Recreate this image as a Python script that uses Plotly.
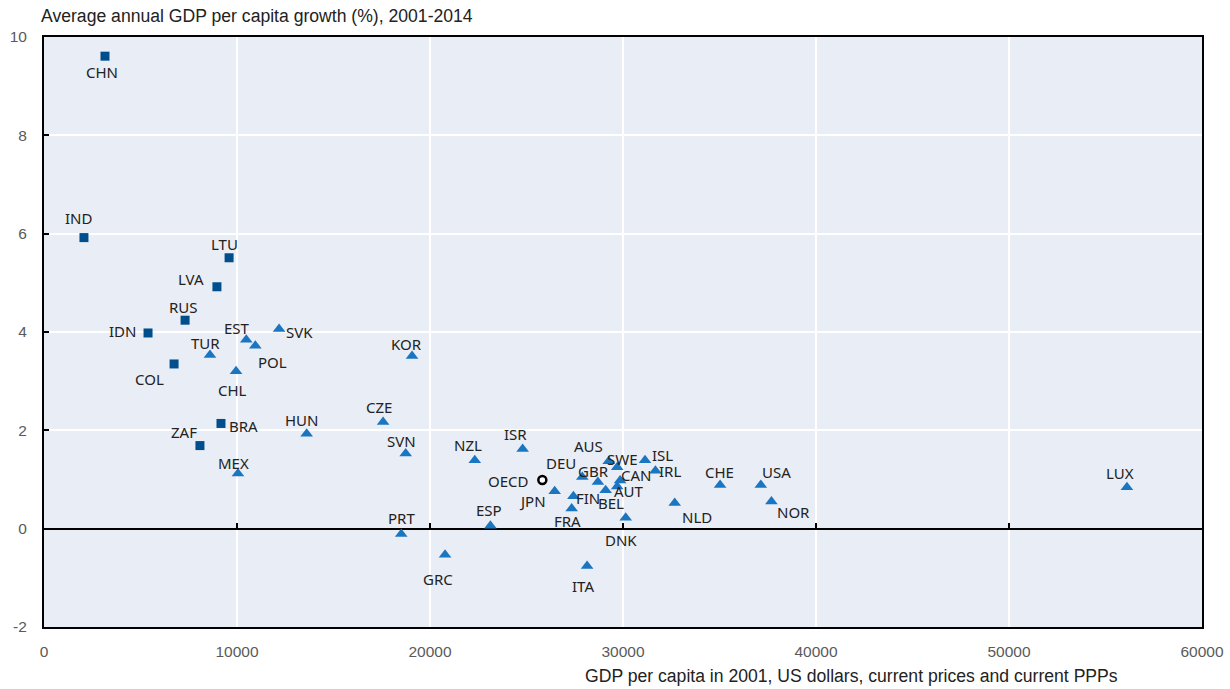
import plotly.graph_objects as go

# partner economies (squares)
partner_codes = ["CHN", "IND", "LTU", "LVA", "RUS", "IDN", "COL", "BRA", "ZAF"]
partner_gdp_2001 = [3160, 2070, 9590, 8960, 7310, 5390, 6740, 9170, 8080]
partner_growth = [9.61, 5.92, 5.51, 4.92, 4.24, 3.98, 3.35, 2.14, 1.69]

# OECD member countries (triangles)
oecd_codes = [
    "SVK", "EST", "POL", "TUR", "CHL", "HUN", "MEX", "KOR", "CZE", "SVN",
    "NZL", "ISR", "JPN", "FIN", "FRA", "DEU", "GBR", "BEL", "AUS", "SWE",
    "CAN", "AUT", "DNK", "ISL", "IRL", "NLD", "ESP", "PRT", "GRC", "ITA",
    "CHE", "USA", "NOR", "LUX",
]
oecd_gdp_2001 = [
    12180, 10480, 10950, 8600, 9950, 13610, 10050, 19070, 17570, 18740,
    22320, 24800, 26460, 27430, 27340, 27890, 28700, 29100, 29260, 29700,
    29850, 29700, 30140, 31140, 31680, 32680, 23130, 18510, 20780, 28140,
    35030, 37140, 37690, 56110,
]
oecd_growth = [
    4.06, 3.84, 3.72, 3.53, 3.20, 1.93, 1.12, 3.51, 2.17, 1.53,
    1.39, 1.62, 0.76, 0.66, 0.41, 1.05, 0.95, 0.78, 1.37, 1.25,
    0.98, 0.86, 0.22, 1.39, 1.18, 0.52, 0.06, -0.11, -0.53, -0.76,
    0.89, 0.89, 0.55, 0.84,
]

# OECD average (circle)
avg_code = ["OECD"]
avg_gdp_2001 = [25820]
avg_growth = [0.99]

x_ticks = [0, 10000, 20000, 30000, 40000, 50000, 60000]
x_ticktext = ["0", "10000", "20000", "30000", "40000", "50000", "60000"]
y_ticks = [-2, 0, 2, 4, 6, 8, 10]
y_ticktext = ["-2", "0", "2", "4", "6", "8", "10"]

# label offsets from the marker, in pixels (x right, y up)
label_shift = {
    "CHN": (-3, -16), "IND": (-5, 20), "LTU": (-5, 14), "LVA": (-26, 8),
    "RUS": (-2, 13), "IDN": (-26, 2), "COL": (-25, -15), "BRA": (23, -3),
    "ZAF": (-16, 14), "SVK": (20, -3), "EST": (-9, 12), "POL": (17, -16),
    "TUR": (-4, 12), "CHL": (-4, -19), "HUN": (-5, 14), "MEX": (-4, 11),
    "KOR": (-6, 12), "CZE": (-4, 15), "SVN": (-4, 12), "NZL": (-7, 15),
    "ISR": (-7, 15), "JPN": (-22, -10), "FIN": (15, -2), "FRA": (-4, -12),
    "DEU": (-21, 14), "GBR": (-4, 11), "BEL": (5, -13), "AUS": (-20, 15),
    "SWE": (5, 8), "CAN": (16, 5), "AUT": (12, -5), "DNK": (-5, -22),
    "ISL": (17, 5), "IRL": (15, 0), "NLD": (22, -14), "ESP": (-1, 16),
    "PRT": (0, 16), "GRC": (-7, -24), "ITA": (-4, -20), "CHE": (-1, 13),
    "USA": (16, 13), "NOR": (22, -10), "LUX": (-7, 14), "OECD": (-34, -1),
}

label_font = dict(family="Noto Sans, Open Sans, sans-serif", size=15, color="#222222")
tick_font = dict(family="Liberation Sans, Arial, sans-serif", size=15.5, color="#5a5a5a")
title_font = dict(family="Liberation Sans, Arial, sans-serif", size=17.6, color="#222222")

fig = go.Figure()

fig.add_trace(
    go.Scatter(
        x=oecd_gdp_2001,
        y=oecd_growth,
        mode="markers",
        marker=dict(symbol="triangle-up", size=11, color="#1b76c2"),
        hovertext=oecd_codes,
        showlegend=False,
    )
)
fig.add_trace(
    go.Scatter(
        x=partner_gdp_2001,
        y=partner_growth,
        mode="markers",
        marker=dict(symbol="square", size=9, color="#004f8c"),
        hovertext=partner_codes,
        showlegend=False,
    )
)
fig.add_trace(
    go.Scatter(
        x=avg_gdp_2001,
        y=avg_growth,
        mode="markers",
        marker=dict(symbol="circle", size=8, color="white", line=dict(color="black", width=2.5)),
        hovertext=avg_code,
        showlegend=False,
    )
)

for codes, xs, ys in [
    (partner_codes, partner_gdp_2001, partner_growth),
    (oecd_codes, oecd_gdp_2001, oecd_growth),
    (avg_code, avg_gdp_2001, avg_growth),
]:
    for code, xv, yv in zip(codes, xs, ys):
        dx, dy = label_shift[code]
        fig.add_annotation(
            x=xv, y=yv, text=code, showarrow=False,
            xshift=dx, yshift=dy, font=label_font,
        )

# axis titles
fig.add_annotation(
    text="Average annual GDP per capita growth (%), 2001-2014",
    xref="paper", yref="paper", x=-0.004, y=1.036,
    xanchor="left", yanchor="middle", showarrow=False,
    font=title_font,
)
fig.add_annotation(
    text="GDP per capita in 2001, US dollars, current prices and current PPPs",
    xref="paper", yref="paper", x=0.929, y=-0.083,
    xanchor="right", yanchor="middle", showarrow=False,
    font=title_font,
)

fig.update_layout(
    width=1230,
    height=689,
    margin=dict(l=44, r=28, t=37, b=62),
    paper_bgcolor="white",
    plot_bgcolor="#e9edf5",
    xaxis=dict(
        range=[0, 60000],
        tickvals=x_ticks,
        ticktext=x_ticktext,
        showgrid=True,
        gridcolor="white",
        gridwidth=2,
        zeroline=False,
        showline=True,
        linecolor="black",
        linewidth=2,
        mirror=True,
        ticks="",
        tickfont=tick_font,
        ticklabelstandoff=9,
        automargin=False,
    ),
    # second x axis just to draw the small ticks along the zero line
    xaxis2=dict(
        range=[0, 60000],
        overlaying="x",
        anchor="free",
        position=2 / 12,
        tickvals=x_ticks,
        ticks="inside",
        ticklen=6,
        tickwidth=1.5,
        tickcolor="black",
        showticklabels=False,
        showgrid=False,
        zeroline=False,
        showline=False,
        automargin=False,
    ),
    yaxis=dict(
        range=[-2, 10],
        tickvals=y_ticks,
        ticktext=y_ticktext,
        showgrid=True,
        gridcolor="white",
        gridwidth=2,
        zeroline=True,
        zerolinecolor="black",
        zerolinewidth=2,
        showline=True,
        linecolor="black",
        linewidth=2,
        mirror=True,
        ticks="inside",
        ticklen=5,
        tickwidth=1.5,
        tickcolor="black",
        tickfont=tick_font,
        ticklabelstandoff=12,
        automargin=False,
    ),
)

# dummy trace so xaxis2 is drawn
fig.add_trace(
    go.Scatter(x=[None], y=[None], xaxis="x2", showlegend=False, hoverinfo="skip")
)

# drop the default body margin so the figure sits at the page corner
fig.write_html(
    "out.html",
    config={"displayModeBar": False},
    post_script="document.body.style.margin='0';",
)
